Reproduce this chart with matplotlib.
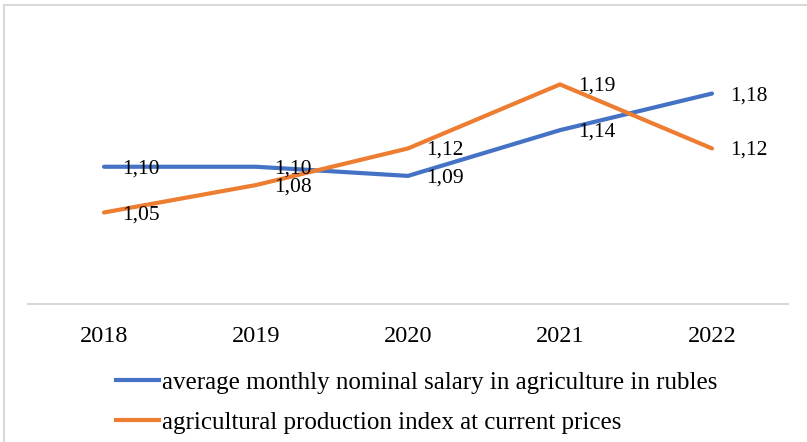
import matplotlib.pyplot as plt
from matplotlib.lines import Line2D

years = ['2018', '2019', '2020', '2021', '2022']
salary = [1.10, 1.10, 1.09, 1.14, 1.18]
production = [1.05, 1.08, 1.12, 1.19, 1.12]
salary_name = 'average monthly nominal salary in agriculture in rubles'
production_name = 'agricultural production index at current prices'

blue = '#4472C4'
orange = '#ED7D31'

plt.rcParams['font.family'] = ['Liberation Serif', 'DejaVu Serif']

fig = plt.figure(figsize=(8.07, 4.42), dpi=100)
ax = fig.add_axes([28 / 807, 1 - 304 / 442, 760 / 807, 280 / 442])

x = list(range(len(years)))
ax.plot(x, salary, color=blue, lw=3, solid_capstyle='round', zorder=2)
ax.plot(x, production, color=orange, lw=3, solid_capstyle='round', zorder=3)

# data labels to the right of each point
for series in (salary, production):
    for xi, v in zip(x, series):
        ax.annotate(f'{v:.2f}'.replace('.', ','), (xi, v), xytext=(13, -1.5),
                    textcoords='offset points', va='center', ha='left',
                    fontsize=15.5, zorder=4)

ax.set_xlim(-0.5, 4.5)
ax.set_ylim(0.95, 1.256)
ax.set_xticks(x)
ax.set_xticklabels(years, fontsize=17.5)
ax.tick_params(axis='x', length=0, pad=15.5)
ax.set_yticks([])
for s in ['top', 'right', 'left']:
    ax.spines[s].set_visible(False)
ax.spines['bottom'].set_color('#D9D9D9')
ax.spines['bottom'].set_linewidth(1.5)

handles = [Line2D([], [], color=blue, lw=3), Line2D([], [], color=orange, lw=3)]
fig.legend(handles, [salary_name, production_name], loc='upper left',
           bbox_to_anchor=(116 / 807, 1 - 371 / 442), frameon=False, fontsize=18,
           borderaxespad=0, borderpad=0,
           handlelength=1.7, handletextpad=0.12, labelspacing=0.72)

# chart frame
fig.add_artist(Line2D([4 / 807, 4 / 807], [0, 1 - 5 / 442], color='#D9D9D9', lw=1.5))
fig.add_artist(Line2D([4 / 807, 1], [1 - 5 / 442, 1 - 5 / 442], color='#D9D9D9', lw=1.5))

fig.savefig('out.png', dpi=100)
